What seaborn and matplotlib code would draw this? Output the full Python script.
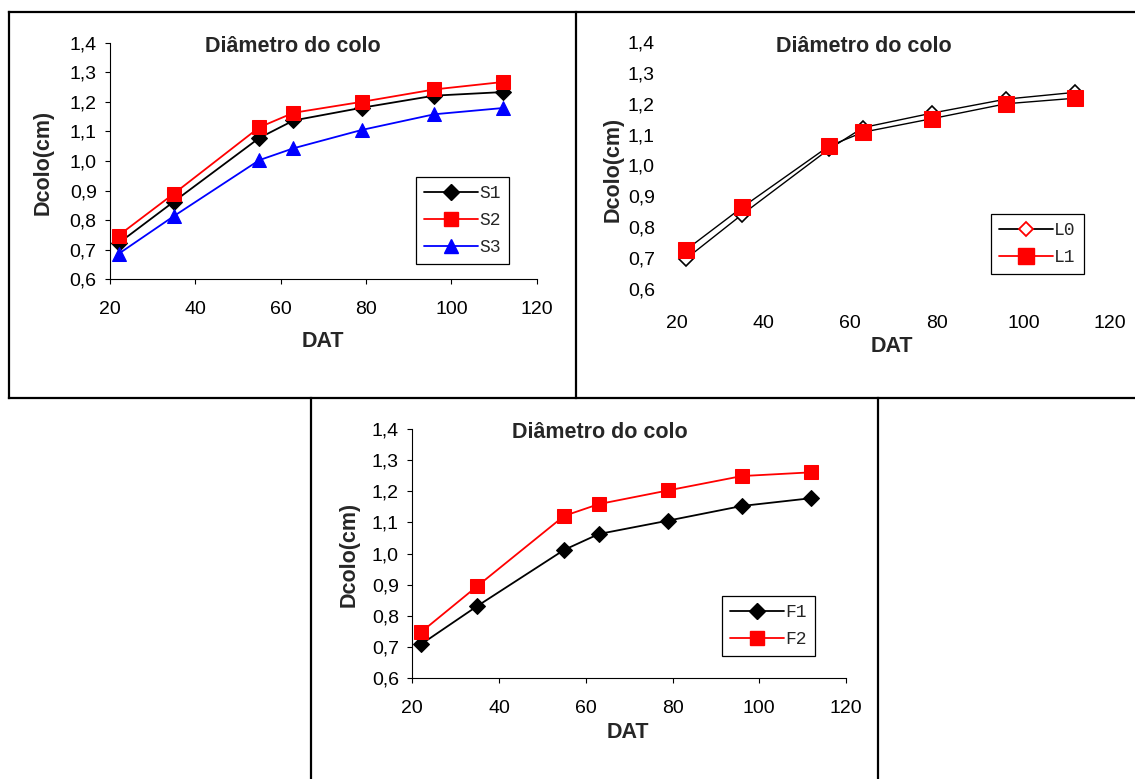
import matplotlib
matplotlib.use("Agg")
import matplotlib.pyplot as plt
from matplotlib.lines import Line2D
import seaborn as sns
import pandas as pd

# Days after transplanting (DAT)
dat = [22, 35, 55, 63, 79, 96, 112]

# Collar diameter (cm) by factor level
s1 = [0.722, 0.863, 1.078, 1.137, 1.180, 1.221, 1.233]
s2 = [0.748, 0.890, 1.114, 1.163, 1.200, 1.242, 1.267]
s3 = [0.686, 0.814, 1.003, 1.043, 1.105, 1.158, 1.179]

l0 = [0.697, 0.841, 1.052, 1.123, 1.170, 1.215, 1.237]
l1 = [0.726, 0.864, 1.062, 1.108, 1.152, 1.200, 1.218]

f1 = [0.709, 0.832, 1.012, 1.063, 1.106, 1.153, 1.178]
f2 = [0.748, 0.896, 1.121, 1.159, 1.203, 1.249, 1.261]

x_ticks = [20, 40, 60, 80, 100, 120]
y_ticks = [0.6, 0.7, 0.8, 0.9, 1.0, 1.1, 1.2, 1.3, 1.4]
y_tick_labels = ["0,6", "0,7", "0,8", "0,9", "1,0", "1,1", "1,2", "1,3", "1,4"]

title = "Diâmetro do colo"
xlabel = "DAT"
ylabel = "Dcolo(cm)"

sns.set_theme(style="white")
plt.rcParams["font.family"] = ["Liberation Sans", "DejaVu Sans"]

W, H = 1135, 779
fig = plt.figure(figsize=(W / 100, H / 100), dpi=100)


def px_axes(left, top, right, bottom):
    return fig.add_axes([left / W, 1 - bottom / H, (right - left) / W, (bottom - top) / H])


def fx(x):
    return x / W


def fy(y):
    return 1 - y / H


def style_axes(ax, show_axis=True, xpad=12, ypad=6):
    ax.set_xlim(20, 120)
    ax.set_ylim(0.6, 1.4)
    ax.set_xticks(x_ticks)
    ax.set_yticks(y_ticks)
    ax.set_yticklabels(y_tick_labels)
    ax.set_facecolor("none")
    for side in ("top", "right"):
        ax.spines[side].set_visible(False)
    for side in ("left", "bottom"):
        ax.spines[side].set_visible(show_axis)
        ax.spines[side].set_color("black")
        ax.spines[side].set_linewidth(0.8)
    ticklen = 3.6 if show_axis else 0
    ax.tick_params(axis="both", which="both", direction="out", length=ticklen,
                   width=0.8, color="black", labelsize=14, labelcolor="black",
                   left=True, bottom=True)
    ax.tick_params(axis="x", pad=xpad)
    ax.tick_params(axis="y", pad=ypad)
    ax.grid(False)


def labels(ax, title_xy, xlab_xy, ylab_xy):
    fig.text(fx(title_xy[0]), fy(title_xy[1]), title, ha="center", va="center",
             fontsize=15.5, fontweight="bold")
    ax.set_xlabel(xlabel, fontsize=15.5, fontweight="bold")
    ax.set_ylabel(ylabel, fontsize=15.5, fontweight="bold")
    ax.xaxis.set_label_coords(fx(xlab_xy[0]), fy(xlab_xy[1]), transform=fig.transFigure)
    ax.yaxis.set_label_coords(fx(ylab_xy[0]), fy(ylab_xy[1]), transform=fig.transFigure)
    ax.xaxis.label.set_va("center")
    ax.yaxis.label.set_va("center")


def legend(ax, handles, names, left, top):
    leg = ax.legend(handles, names, loc="upper left",
                    bbox_to_anchor=(fx(left), fy(top)), bbox_transform=fig.transFigure,
                    borderaxespad=0, frameon=True, fancybox=False, framealpha=1,
                    edgecolor="black", handlelength=3.0, handletextpad=0.05,
                    labelspacing=0.55, borderpad=0.45,
                    prop={"family": "Liberation Mono", "size": 13})
    leg.get_frame().set_linewidth(0.9)
    return leg


lw = 1.3

# ---- Panel S ----
ax1 = px_axes(110, 42.7, 536.7, 279.3)
df = pd.DataFrame({"DAT": dat, "S1": s1, "S2": s2, "S3": s3})
sns.lineplot(data=df, x="DAT", y="S1", ax=ax1, color="black", lw=lw,
             marker="D", markersize=8.5, markeredgecolor="black", markerfacecolor="black")
sns.lineplot(data=df, x="DAT", y="S2", ax=ax1, color="red", lw=lw,
             marker="s", markersize=10, markeredgecolor="red", markerfacecolor="red")
sns.lineplot(data=df, x="DAT", y="S3", ax=ax1, color="blue", lw=lw,
             marker="^", markersize=10, markeredgecolor="blue", markerfacecolor="blue")
style_axes(ax1, True)
labels(ax1, (293, 47), (323, 342), (43, 162))
legend(ax1, [
    Line2D([], [], color="black", lw=lw, marker="D", markersize=8.5, mfc="black", mec="black"),
    Line2D([], [], color="red", lw=lw, marker="s", markersize=10, mfc="red", mec="red"),
    Line2D([], [], color="blue", lw=lw, marker="^", markersize=10, mfc="blue", mec="blue"),
], ["S1", "S2", "S3"], 416, 177)

# ---- Panel L ----
ax2 = px_axes(677, 42, 1110, 289)
df = pd.DataFrame({"DAT": dat, "L0": l0, "L1": l1})
sns.lineplot(data=df, x="DAT", y="L0", ax=ax2, color="black", lw=1.0,
             marker="D", markersize=7, markeredgecolor="black", markerfacecolor="white",
             markeredgewidth=1.2)
sns.lineplot(data=df, x="DAT", y="L1", ax=ax2, color="black", lw=1.0,
             marker="s", markersize=11, markeredgecolor="red", markerfacecolor="red")
style_axes(ax2, False, xpad=19, ypad=16)
labels(ax2, (864, 47), (892, 347), (613, 169))
legend(ax2, [
    Line2D([], [], color="black", lw=lw, marker="D", markersize=7, mfc="white", mec="red",
           mew=1.3),
    Line2D([], [], color="red", lw=lw, marker="s", markersize=11, mfc="red", mec="red"),
], ["L0", "L1"], 991, 214)

# ---- Panel F ----
ax3 = px_axes(412.3, 429, 846, 678.3)
df = pd.DataFrame({"DAT": dat, "F1": f1, "F2": f2})
sns.lineplot(data=df, x="DAT", y="F1", ax=ax3, color="black", lw=lw,
             marker="D", markersize=8.5, markeredgecolor="black", markerfacecolor="black")
sns.lineplot(data=df, x="DAT", y="F2", ax=ax3, color="red", lw=lw,
             marker="s", markersize=10, markeredgecolor="red", markerfacecolor="red")
style_axes(ax3, True)
labels(ax3, (600, 433), (628, 733), (349, 554))
legend(ax3, [
    Line2D([], [], color="black", lw=lw, marker="D", markersize=8.5, mfc="black", mec="black"),
    Line2D([], [], color="red", lw=lw, marker="s", markersize=10, mfc="red", mec="red"),
], ["F1", "F2"], 722, 596)

# ---- Panel frames ----
frame_segments = [
    ((9, 12), (1135, 12)),
    ((9, 12), (9, 398)),
    ((576, 12), (576, 398)),
    ((9, 398), (1135, 398)),
    ((311, 398), (311, 779)),
    ((878, 398), (878, 779)),
]
for (x0, y0), (x1, y1) in frame_segments:
    fig.add_artist(Line2D([fx(x0), fx(x1)], [fy(y0), fy(y1)], color="black", lw=1.6,
                          transform=fig.transFigure, solid_capstyle="projecting"))

fig.savefig("out.png", dpi=100, facecolor="white")
